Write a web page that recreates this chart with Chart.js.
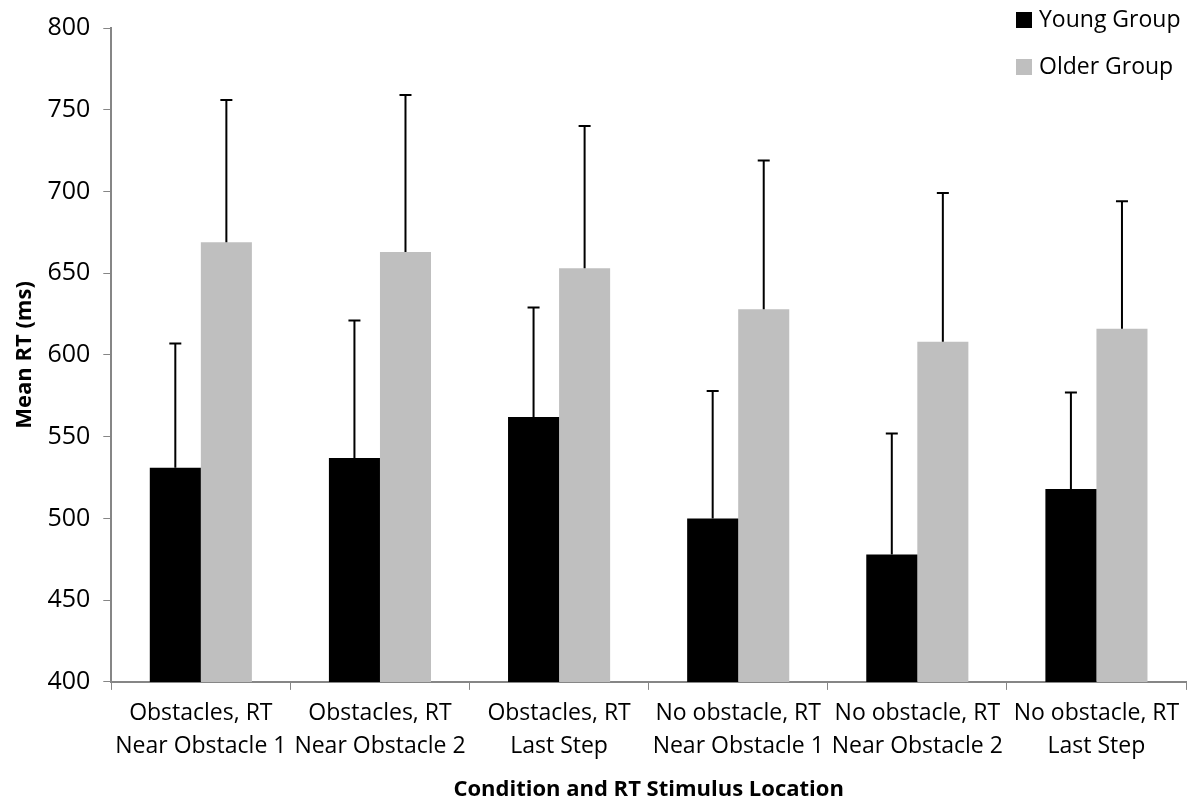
<!DOCTYPE html>
<html lang="en">
<head>
    <meta charset="UTF-8">
    <title>Mean RT by condition</title>
    <script src="https://cdn.jsdelivr.net/npm/chart.js"></script>
    <style>
        html, body { margin: 0; padding: 0; background: #fff; }
    </style>
</head>
<body>
    <canvas id="rtChart" width="1194" height="803"></canvas>

    <script>
        // data
        const conditions = [
            ["Obstacles, RT", "Near Obstacle 1"],
            ["Obstacles, RT", "Near Obstacle 2"],
            ["Obstacles, RT", "Last Step"],
            ["No obstacle, RT", "Near Obstacle 1"],
            ["No obstacle, RT", "Near Obstacle 2"],
            ["No obstacle, RT", "Last Step"]
        ];
        const youngMeans = [531, 537, 562, 500, 478, 518];
        const youngErr   = [76, 84, 67, 78, 74, 59];
        const olderMeans = [669, 663, 653, 628, 608, 616];
        const olderErr   = [87, 96, 87, 91, 91, 78];
        const yTicks = [400, 450, 500, 550, 600, 650, 700, 750, 800];

        const FONT = "'Open Sans', sans-serif";
        const AXIS_GREY = '#868686';

        // upward-only error bars with a cap
        const errorBars = {
            id: 'errorBars',
            afterDatasetsDraw(chart) {
                const ctx = chart.ctx;
                const y = chart.scales.y;
                chart.data.datasets.forEach((ds, i) => {
                    const meta = chart.getDatasetMeta(i);
                    meta.data.forEach((bar, j) => {
                        const top = y.getPixelForValue(ds.data[j] + ds.errors[j]);
                        ctx.save();
                        ctx.strokeStyle = '#000';
                        ctx.lineWidth = 2;
                        ctx.beginPath();
                        ctx.moveTo(bar.x, bar.y);
                        ctx.lineTo(bar.x, top);
                        ctx.moveTo(bar.x - 6, top);
                        ctx.lineTo(bar.x + 6, top);
                        ctx.stroke();
                        ctx.restore();
                    });
                });
            }
        };

        // legend sits inside the top-right corner, stacked
        const cornerLegend = {
            id: 'cornerLegend',
            afterDraw(chart) {
                const ctx = chart.ctx;
                const x = chart.width - 178;
                ctx.save();
                ctx.font = '23px ' + FONT;
                ctx.textBaseline = 'middle';
                chart.data.datasets.forEach((ds, i) => {
                    const cy = 20 + i * 47;
                    ctx.fillStyle = ds.backgroundColor;
                    ctx.fillRect(x, cy - 8, 16, 16);
                    ctx.fillStyle = '#000';
                    ctx.fillText(ds.label, x + 23, cy);
                });
                ctx.restore();
            }
        };

        new Chart(document.getElementById('rtChart'), {
            type: 'bar',
            data: {
                labels: conditions,
                datasets: [
                    { label: 'Young Group', data: youngMeans, errors: youngErr, backgroundColor: '#000000' },
                    { label: 'Older Group', data: olderMeans, errors: olderErr, backgroundColor: '#bfbfbf' }
                ]
            },
            options: {
                responsive: false,
                animation: false,
                devicePixelRatio: 1,
                categoryPercentage: 0.57,
                barPercentage: 1.0,
                layout: { padding: { top: 4, right: 8, left: 12, bottom: 0 } },
                plugins: {
                    legend: { display: false },
                    tooltip: { enabled: false }
                },
                scales: {
                    x: {
                        grid: {
                            drawOnChartArea: false,
                            color: AXIS_GREY,
                            tickLength: 8,
                            offset: true
                        },
                        border: { color: AXIS_GREY, width: 2 },
                        ticks: {
                            color: '#000',
                            font: { family: FONT, size: 23, lineHeight: 1.45 },
                            maxRotation: 0,
                            autoSkip: false,
                            padding: 7
                        },
                        title: {
                            display: true,
                            text: 'Condition and RT Stimulus Location',
                            color: '#000',
                            font: { family: FONT, size: 22, weight: 'bold' },
                            padding: { top: 6, bottom: 0 }
                        }
                    },
                    y: {
                        min: 400,
                        max: 800,
                        afterBuildTicks: (axis) => { axis.ticks = yTicks.map(v => ({ value: v })); },
                        grid: {
                            drawOnChartArea: false,
                            color: AXIS_GREY,
                            tickLength: 8
                        },
                        border: { color: AXIS_GREY, width: 2 },
                        ticks: {
                            color: '#000',
                            font: { family: FONT, size: 25 },
                            padding: 13
                        },
                        title: {
                            display: true,
                            text: 'Mean RT (ms)',
                            color: '#000',
                            font: { family: FONT, size: 22, weight: 'bold' },
                            padding: { top: 0, bottom: -4 }
                        }
                    }
                }
            },
            plugins: [errorBars, cornerLegend]
        });
    </script>
</body>
</html>
